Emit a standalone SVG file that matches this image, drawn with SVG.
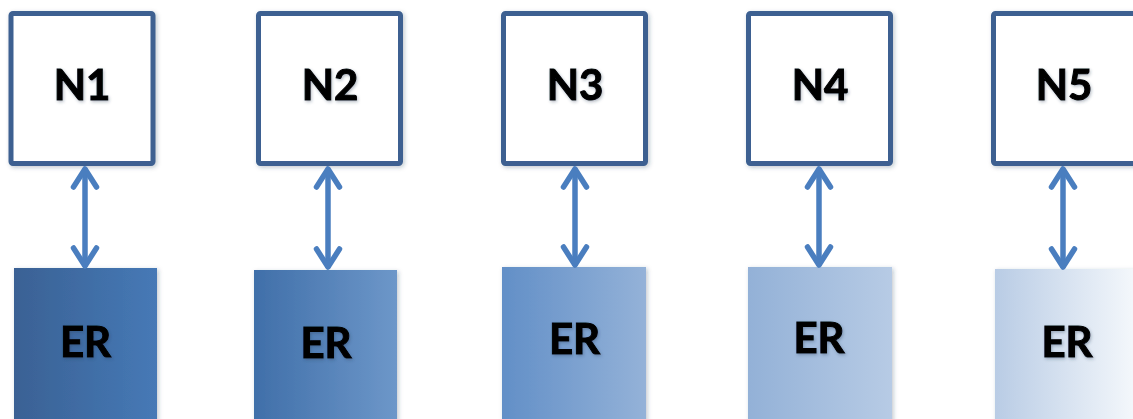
<svg xmlns="http://www.w3.org/2000/svg" width="1133" height="419" viewBox="0 0 1133 419">
  <style>
    .node-box { fill: #ffffff; stroke: #3d6191; stroke-width: 5; }
    .label { font-family: Lato, "Open Sans", "Liberation Sans", sans-serif; font-weight: bold; font-size: 42px; fill: #000000; stroke: #000000; stroke-width: 1; text-anchor: middle; }
    .link { fill: none; stroke: #4a7ebf; stroke-width: 5.5; stroke-linecap: round; stroke-linejoin: round; }
  </style>
  <defs>
    <filter id="boxShadow" x="-10%" y="-10%" width="125%" height="125%">
      <feDropShadow dx="1.5" dy="1.5" stdDeviation="2" flood-color="#1f3550" flood-opacity="0.28"/>
    </filter>
    <filter id="textGlow" x="-20%" y="-20%" width="140%" height="140%">
      <feDropShadow dx="1" dy="1.5" stdDeviation="1.5" flood-color="#2a3a55" flood-opacity="0.35"/>
    </filter>
    <linearGradient id="er1" x1="0" y1="0" x2="1" y2="0">
      <stop offset="0" stop-color="#3a6194"/>
      <stop offset="1" stop-color="#4679b6"/>
    </linearGradient>
    <linearGradient id="er2" x1="0" y1="0" x2="1" y2="0">
      <stop offset="0" stop-color="#406fa9"/>
      <stop offset="1" stop-color="#6d97c9"/>
    </linearGradient>
    <linearGradient id="er3" x1="0" y1="0" x2="1" y2="0">
      <stop offset="0" stop-color="#628fc7"/>
      <stop offset="1" stop-color="#94b2d8"/>
    </linearGradient>
    <linearGradient id="er4" x1="0" y1="0" x2="1" y2="0">
      <stop offset="0" stop-color="#93b1d7"/>
      <stop offset="1" stop-color="#b7cbe5"/>
    </linearGradient>
    <linearGradient id="er5" x1="0" y1="0" x2="1" y2="0">
      <stop offset="0" stop-color="#b9cce5"/>
      <stop offset="1" stop-color="#f6f9fc"/>
    </linearGradient>
  </defs>

  <rect width="1133" height="419" fill="#ffffff"/>

  <!-- top row: N nodes -->
  <g id="n1">
    <rect class="node-box" x="11" y="13.5" width="142" height="150" rx="2" filter="url(#boxShadow)"/>
    <text class="label" x="82" y="100" filter="url(#textGlow)">N1</text>
  </g>
  <g id="n2">
    <rect class="node-box" x="258.5" y="13.5" width="142" height="150" rx="2" filter="url(#boxShadow)"/>
    <text class="label" x="330" y="100" filter="url(#textGlow)">N2</text>
  </g>
  <g id="n3">
    <rect class="node-box" x="503.5" y="13.5" width="142" height="150" rx="2" filter="url(#boxShadow)"/>
    <text class="label" x="575" y="100" filter="url(#textGlow)">N3</text>
  </g>
  <g id="n4">
    <rect class="node-box" x="748.5" y="13.5" width="142" height="150" rx="2" filter="url(#boxShadow)"/>
    <text class="label" x="820" y="100" filter="url(#textGlow)">N4</text>
  </g>
  <g id="n5">
    <rect class="node-box" x="993.5" y="13.5" width="142" height="150" rx="2" filter="url(#boxShadow)"/>
    <text class="label" x="1064" y="100" filter="url(#textGlow)">N5</text>
  </g>

  <!-- bottom row: ER nodes -->
  <g id="er-1">
    <rect x="14" y="268" width="143" height="160" fill="url(#er1)" filter="url(#boxShadow)"/>
    <text class="label" x="85.5" y="357" filter="url(#textGlow)">ER</text>
  </g>
  <g id="er-2">
    <rect x="254" y="270" width="143" height="160" fill="url(#er2)" filter="url(#boxShadow)"/>
    <text class="label" x="326" y="358" filter="url(#textGlow)">ER</text>
  </g>
  <g id="er-3">
    <rect x="502" y="267" width="144" height="160" fill="url(#er3)" filter="url(#boxShadow)"/>
    <text class="label" x="574.5" y="354" filter="url(#textGlow)">ER</text>
  </g>
  <g id="er-4">
    <rect x="748" y="267" width="144" height="160" fill="url(#er4)" filter="url(#boxShadow)"/>
    <text class="label" x="819" y="353" filter="url(#textGlow)">ER</text>
  </g>
  <g id="er-5">
    <rect x="995" y="269" width="144" height="160" fill="url(#er5)" filter="url(#boxShadow)"/>
    <text class="label" x="1067" y="357" filter="url(#textGlow)">ER</text>
  </g>

  <!-- two-way links between each N node and its ER -->
  <g id="connectors">
    <g>
      <line class="link" x1="85" y1="170" x2="85" y2="265"/>
      <polyline class="link" points="73.5,187 85,169 96.5,187"/>
      <polyline class="link" points="73.5,248 85,266 96.5,248"/>
    </g>
    <g>
      <line class="link" x1="328" y1="170" x2="328" y2="266"/>
      <polyline class="link" points="316.5,187 328,169 339.5,187"/>
      <polyline class="link" points="316.5,249 328,267 339.5,249"/>
    </g>
    <g>
      <line class="link" x1="575" y1="170" x2="575" y2="264"/>
      <polyline class="link" points="563.5,187 575,169 586.5,187"/>
      <polyline class="link" points="563.5,247 575,265 586.5,247"/>
    </g>
    <g>
      <line class="link" x1="819" y1="170" x2="819" y2="264"/>
      <polyline class="link" points="807.5,187 819,169 830.5,187"/>
      <polyline class="link" points="807.5,247 819,265 830.5,247"/>
    </g>
    <g>
      <line class="link" x1="1063" y1="170" x2="1063" y2="266"/>
      <polyline class="link" points="1051.5,187 1063,169 1074.5,187"/>
      <polyline class="link" points="1051.5,249 1063,267 1074.5,249"/>
    </g>
  </g>
</svg>
